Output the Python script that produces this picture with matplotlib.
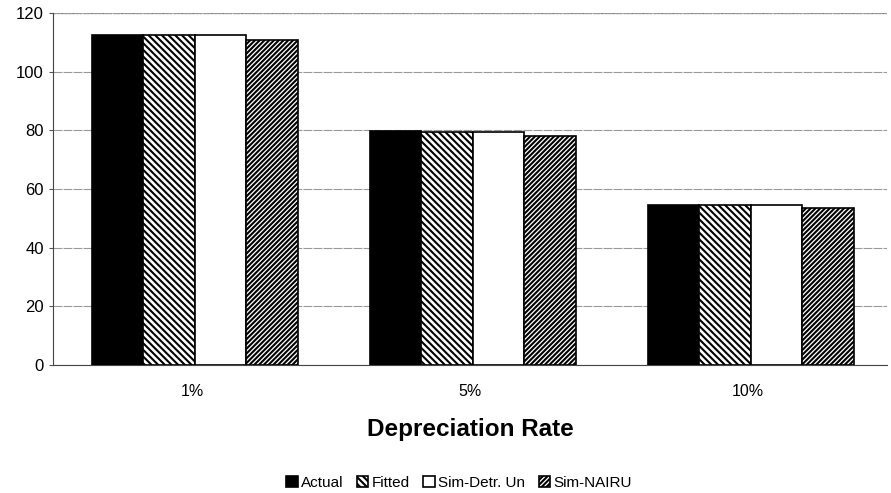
import matplotlib
matplotlib.use("Agg")
import matplotlib.pyplot as plt
import numpy as np

categories = ["1%", "5%", "10%"]
series_names = ["Actual", "Fitted", "Sim-Detr. Un", "Sim-NAIRU"]
actual = [112.5, 79.8, 54.6]
fitted = [112.5, 79.6, 54.6]
sim_detr = [112.5, 79.4, 54.5]
sim_nairu = [110.8, 78.2, 53.6]
yticks = [0, 20, 40, 60, 80, 100, 120]

plt.rcParams['font.family'] = ['Liberation Sans', 'DejaVu Sans']
plt.rcParams['hatch.linewidth'] = 1.5

fig = plt.figure(figsize=(8.91, 4.93), dpi=100)
ax = fig.add_axes([0.0595, 0.2596, 0.936, 0.714])

x = np.arange(len(categories))
w = 0.185
styles = [
    dict(color="black", edgecolor="black"),
    dict(color="white", edgecolor="black", hatch="\\" * 5),
    dict(color="white", edgecolor="black"),
    dict(color="white", edgecolor="black", hatch="/" * 7),
]
data = [actual, fitted, sim_detr, sim_nairu]
for i, (vals, st, name) in enumerate(zip(data, styles, series_names)):
    ax.bar(x + (i - 1.5) * w + 0.01, vals, w, label=name, linewidth=1.2, zorder=3, **st)

ax.set_xlim(-0.5, 2.5)
ax.set_ylim(0, 120)
ax.set_yticks(yticks)
ax.set_xticks(x)
ax.set_xticklabels(categories)
ax.yaxis.grid(True, color="#999999", linewidth=0.8, linestyle=(0, (8, 1)), zorder=0)
ax.tick_params(axis="y", labelsize=12, length=3, color="#555555")
ax.tick_params(axis="x", labelsize=11.5, length=0, pad=14)
for s in ["top", "right"]:
    ax.spines[s].set_visible(False)
ax.spines["left"].set_color("#444444")
ax.spines["left"].set_linestyle((0, (2, 1)))
ax.spines["bottom"].set_color("#444444")
ax.axhline(120, color="#666666", linewidth=0.9, linestyle=(0, (2, 1)), zorder=1)
ax.set_xlabel("Depreciation Rate", fontsize=17.5, fontweight="bold", labelpad=13)

leg = fig.legend(loc="lower center", bbox_to_anchor=(0.515, -0.022), ncol=4, frameon=False,
                 fontsize=11, handlelength=0.75, handleheight=0.75, handletextpad=0.2,
                 columnspacing=0.9)
fig.savefig("out.png", dpi=100)
